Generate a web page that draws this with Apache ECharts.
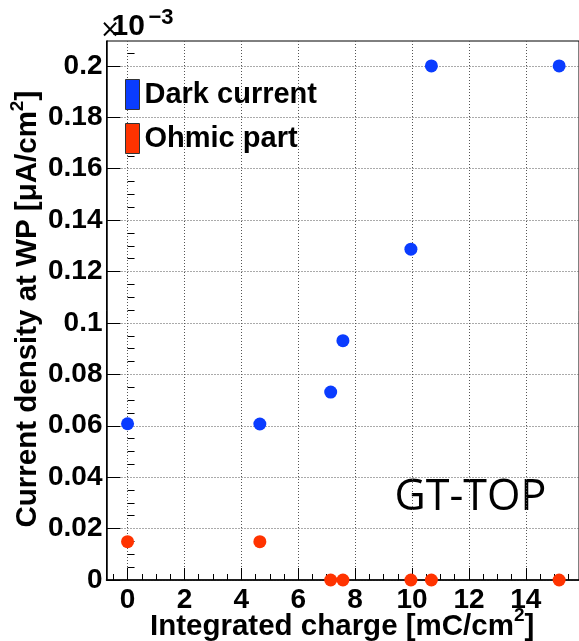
<!DOCTYPE html>
<html>
<head>
<meta charset="utf-8">
<script src="https://cdn.jsdelivr.net/npm/echarts@6/dist/echarts.min.js"></script>
<style>
html,body{margin:0;padding:0;background:#fff;}
#c{width:579px;height:641px;}
</style>
</head>
<body>
<div id="c"></div>
<script>
// ---- data (current density in units of 1e-3 µA/cm²) ----
const charge      = [0, 4.65, 7.14, 7.57, 9.96, 10.68, 15.17];
const darkCurrent = [0.0608, 0.0607, 0.0731, 0.0931, 0.1287, 0.2, 0.2];
const ohmicPart   = [0.0149, 0.0149, 0, 0, 0, 0, 0];
const seriesNames = ['Dark current', 'Ohmic part'];
const seriesColors = ['#0a3cff', '#ff3300'];
const xTicks = [0, 2, 4, 6, 8, 10, 12, 14];
const yTicks = [0, 0.02, 0.04, 0.06, 0.08, 0.1, 0.12, 0.14, 0.16, 0.18, 0.2];
const xRange = [-0.74, 15.868];
const yRange = [0, 0.2097];

function minorsOf(start, end, step, majors) {
  const out = [];
  for (let i = Math.ceil(start / step); i * step <= end + 1e-9; i++) {
    const v = +(i * step).toFixed(6);
    if (majors.indexOf(v) < 0) out.push(v);
  }
  return out;
}
const xMinor = minorsOf(xRange[0], xRange[1], 0.5, xTicks);
const yMinor = minorsOf(yRange[0], yRange[1], 0.005, yTicks);

const FONT = 'Liberation Sans';
const chart = echarts.init(document.getElementById('c'), null, {renderer: 'canvas'});

const gridLine = {show: true, lineStyle: {color: '#555', width: 1, type: [1, 2]}};

const option = {
  animation: false,
  backgroundColor: '#fff',
  grid: {left: 106.5, top: 41, width: 474, height: 539, show: true,
         borderColor: '#000', borderWidth: 1, backgroundColor: 'transparent'},
  xAxis: [{
    type: 'value', position: 'bottom', min: xRange[0], max: xRange[1],
    axisLine: {show: true, onZero: false, lineStyle: {color: '#000', width: 1.5}},
    axisTick: {show: true, inside: true, length: 12, customValues: xTicks, lineStyle: {color: '#000', width: 1}},
    axisLabel: {show: true, customValues: xTicks, margin: 6, color: '#000',
                fontFamily: FONT, fontWeight: 'bold', fontSize: 28,
                formatter: v => String(Math.round(v))},
    splitLine: gridLine
  }, {
    type: 'value', position: 'bottom', min: xRange[0], max: xRange[1],
    axisLine: {show: false},
    axisTick: {show: true, inside: true, length: 6, customValues: xMinor, lineStyle: {color: '#000', width: 1}},
    axisLabel: {show: false},
    splitLine: {show: false}
  }],
  yAxis: [{
    type: 'value', position: 'left', min: yRange[0], max: yRange[1],
    axisLine: {show: true, onZero: false, lineStyle: {color: '#000', width: 1.5}},
    axisTick: {show: true, inside: true, length: 14, customValues: yTicks, lineStyle: {color: '#000', width: 1}},
    axisLabel: {show: true, customValues: yTicks, margin: 4, color: '#000',
                fontFamily: FONT, fontWeight: 'bold', fontSize: 28,
                formatter: v => String(parseFloat((+v).toFixed(4)))},
    splitLine: gridLine
  }, {
    type: 'value', position: 'left', min: yRange[0], max: yRange[1],
    axisLine: {show: false},
    axisTick: {show: true, inside: true, length: 7, customValues: yMinor, lineStyle: {color: '#000', width: 1}},
    axisLabel: {show: false},
    splitLine: {show: false}
  }],
  legend: {
    orient: 'vertical', left: 125, top: 79, padding: 0,
    icon: 'rect', itemWidth: 14, itemHeight: 30, itemGap: 13,
    textStyle: {fontFamily: FONT, fontWeight: 'bold', fontSize: 29, color: '#000', lineHeight: 30},
    data: seriesNames.map((n, i) => ({name: n, icon: 'rect',
      itemStyle: {color: seriesColors[i], opacity: 1, borderColor: '#333', borderWidth: 1}}))
  },
  series: [
    {name: seriesNames[0], type: 'scatter', symbol: 'circle', symbolSize: 13,
     itemStyle: {color: seriesColors[0], opacity: 1}, clip: false,
     data: charge.map((x, i) => [x, darkCurrent[i]])},
    {name: seriesNames[1], type: 'scatter', symbol: 'circle', symbolSize: 13,
     itemStyle: {color: seriesColors[1], opacity: 1}, clip: false,
     data: charge.map((x, i) => [x, ohmicPart[i]])}
  ],
  graphic: [
    // exponent ×10^-3
    {type: 'text', x: 100, y: 31, style: {text: '×', font: '24px "DejaVu Sans"', fill: '#000', align: 'left', verticalAlign: 'middle'}},
    {type: 'text', x: 111.5, y: 26.5, style: {text: '10', font: 'bold 30px "Liberation Sans"', fill: '#000', align: 'left', verticalAlign: 'middle'}},
    {type: 'text', x: 148.5, y: 17.5, style: {text: '−3', font: 'bold 22px "Liberation Sans"', fill: '#000', align: 'left', verticalAlign: 'middle'}},
    // label GT-TOP
    {type: 'text', x: 394.5, y: 497.7, style: {text: 'GT-TOP', font: '43px "Open Sans"', fill: '#000', align: 'left', verticalAlign: 'middle'}},
    // x axis title
    {type: 'text', x: 150, y: 626.5, style: {
      text: '{m|Integrated charge [mC/cm}{s|2}{m|]}', align: 'left', verticalAlign: 'middle',
      rich: {
        m: {font: 'bold 29.5px "Liberation Sans"', fill: '#000', lineHeight: 40},
        s: {font: 'bold 19px "Liberation Sans"', fill: '#000', verticalAlign: 'top', lineHeight: 19}
      }}},
    // y axis title
    {type: 'text', x: 28.3, y: 527.5, rotation: Math.PI / 2, style: {
      text: '{m|Current density at WP [μA/cm}{s|2}{m|]}', align: 'left', verticalAlign: 'middle',
      rich: {
        m: {font: 'bold 29.5px "Liberation Sans"', fill: '#000', lineHeight: 40},
        s: {font: 'bold 19px "Liberation Sans"', fill: '#000', verticalAlign: 'top', lineHeight: 19}
      }}}
  ]
};
chart.setOption(option);
</script>
</body>
</html>
